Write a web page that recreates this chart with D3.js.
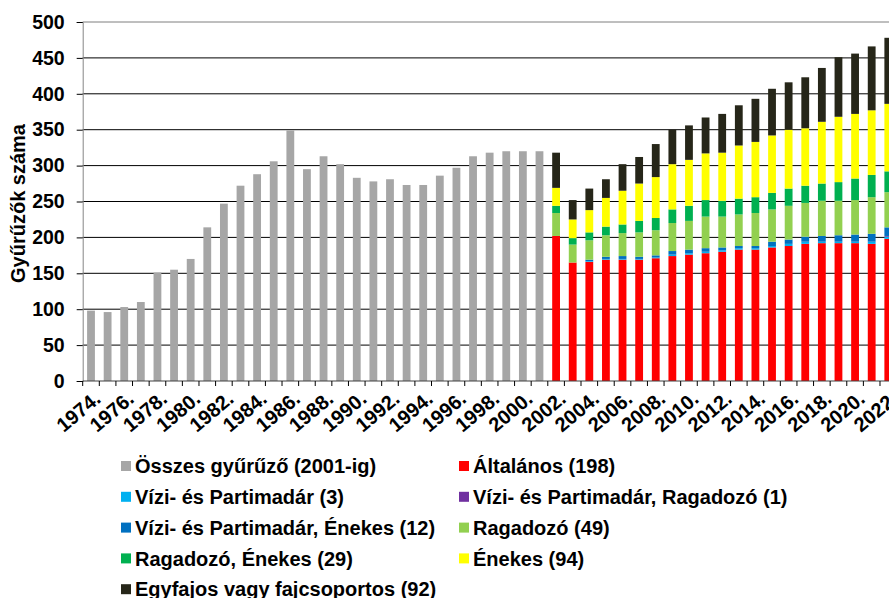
<!DOCTYPE html>
<html>
<head>
<meta charset="utf-8">
<script src="https://cdn.jsdelivr.net/npm/d3@7/dist/d3.min.js"></script>
<style>
  body { margin: 0; background: #ffffff; }
  svg { display: block; }
  text { font-family: "Liberation Sans", Arial, sans-serif; font-weight: bold; fill: #000000; }
</style>
</head>
<body>
<script>
// categories
const years = [
  1974, 1975, 1976, 1977, 1978, 1979, 1980, 1981, 1982, 1983,
  1984, 1985, 1986, 1987, 1988, 1989, 1990, 1991, 1992, 1993,
  1994, 1995, 1996, 1997, 1998, 1999, 2000, 2001, 2002, 2003,
  2004, 2005, 2006, 2007, 2008, 2009, 2010, 2011, 2012, 2013,
  2014, 2015, 2016, 2017, 2018, 2019, 2020, 2021, 2022,
];

// all ringers, up to 2001
const totalYears = [
  1974, 1975, 1976, 1977, 1978, 1979, 1980, 1981, 1982, 1983,
  1984, 1985, 1986, 1987, 1988, 1989, 1990, 1991, 1992, 1993,
  1994, 1995, 1996, 1997, 1998, 1999, 2000, 2001,
];
const totalValues = [
  98, 96, 103, 110, 151, 155, 170, 214, 247, 272,
  288, 306, 349, 295, 313, 302, 283, 278, 281, 273,
  273, 286, 297, 313, 318, 320, 320, 320,
];

// by licence type, from 2002
const stackYears = [
  2002, 2003, 2004, 2005, 2006, 2007, 2008, 2009, 2010, 2011,
  2012, 2013, 2014, 2015, 2016, 2017, 2018, 2019, 2020, 2021, 2022,
];
const altalanos = [202, 165, 166, 169, 169, 169, 171, 174, 176, 178, 180, 183, 183, 186, 188, 191, 192, 192, 192, 191, 198];
const viziParti = [0, 0, 1, 1, 1, 1, 1, 2, 2, 2, 2, 2, 2, 2, 3, 3, 2, 2, 2, 3, 3];
const viziRagadozo = [0, 0, 0, 0, 0, 0, 0, 0, 0, 0, 0, 0, 0, 0, 0, 0, 0, 0, 0, 0, 1];
const viziEnekes = [0, 0, 2, 3, 4, 3, 3, 5, 5, 5, 4, 3, 3, 6, 6, 7, 8, 9, 10, 11, 12];
const ragadozo = [32, 25, 27, 30, 32, 34, 35, 39, 40, 44, 43, 44, 46, 45, 47, 47, 49, 48, 48, 51, 49];
const ragadozoEnekes = [10, 9, 11, 12, 12, 16, 17, 19, 21, 23, 22, 22, 22, 23, 24, 24, 24, 26, 30, 31, 29];
const enekes = [25, 26, 31, 40, 47, 52, 57, 63, 64, 65, 67, 74, 77, 80, 82, 80, 86, 91, 90, 90, 94];
const egyfajos = [49, 27, 30, 26, 37, 37, 46, 48, 48, 50, 54, 56, 60, 65, 66, 71, 75, 83, 84, 89, 92];

const yTicks = [0, 50, 100, 150, 200, 250, 300, 350, 400, 450, 500];

const seriesKeys = ["altalanos", "viziParti", "viziRagadozo", "viziEnekes", "ragadozo", "ragadozoEnekes", "enekes", "egyfajos"];
const seriesColors = {
  altalanos: "#ff0000",
  viziParti: "#00b0f0",
  viziRagadozo: "#7030a0",
  viziEnekes: "#0070c0",
  ragadozo: "#92d050",
  ragadozoEnekes: "#00b050",
  enekes: "#ffff00",
  egyfajos: "#262619",
};
const grey = "#a6a6a6";

const legendItems = [
  { label: "Összes gyűrűző (2001-ig)", color: grey },
  { label: "Általános (198)", color: seriesColors.altalanos },
  { label: "Vízi- és Partimadár (3)", color: seriesColors.viziParti },
  { label: "Vízi- és Partimadár, Ragadozó (1)", color: seriesColors.viziRagadozo },
  { label: "Vízi- és Partimadár, Énekes (12)", color: seriesColors.viziEnekes },
  { label: "Ragadozó (49)", color: seriesColors.ragadozo },
  { label: "Ragadozó, Énekes (29)", color: seriesColors.ragadozoEnekes },
  { label: "Énekes (94)", color: seriesColors.enekes },
  { label: "Egyfajos vagy fajcsoportos (92)", color: seriesColors.egyfajos },
];

const width = 889;
const height = 598;

const plotLeft = 82.7;
const plotRight = 896.6;
const plotTop = 22;
const plotBottom = 381;

const svg = d3.select("body")
    .append("svg")
    .attr("xmlns", "http://www.w3.org/2000/svg")
    .attr("width", width)
    .attr("height", height)
    .attr("viewBox", [0, 0, width, height].join(" "));

const x = d3.scaleBand()
    .domain(years)
    .range([plotLeft, plotRight])
    .paddingInner(0.53)
    .paddingOuter(0.265);

const y = d3.scaleLinear()
    .domain([0, 500])
    .range([plotBottom, plotTop]);

// gridlines
svg.append("g")
    .selectAll("line")
    .data(yTicks.filter((d) => d > 0))
    .enter()
    .append("line")
    .attr("x1", plotLeft)
    .attr("x2", plotRight)
    .attr("y1", (d) => y(d))
    .attr("y2", (d) => y(d))
    .attr("stroke", (d) => (d === 500 ? "#7f7f7f" : "#000000"))
    .attr("stroke-width", 1);

// grey bars
svg.append("g")
    .selectAll("rect")
    .data(totalYears.map((year, i) => ({ year, value: totalValues[i] })))
    .enter()
    .append("rect")
    .attr("x", (d) => x(d.year))
    .attr("width", x.bandwidth())
    .attr("y", (d) => y(d.value))
    .attr("height", (d) => y(0) - y(d.value))
    .attr("fill", grey);

// stacked bars
const seriesData = { altalanos, viziParti, viziRagadozo, viziEnekes, ragadozo, ragadozoEnekes, enekes, egyfajos };

const rows = stackYears.map((year, i) => {
  const row = { year };
  for (const key of seriesKeys) {
    row[key] = seriesData[key][i];
  }
  return row;
});

const stack = d3.stack().keys(seriesKeys);

svg.append("g")
    .selectAll("g")
    .data(stack(rows))
    .enter()
    .append("g")
    .attr("fill", (d) => seriesColors[d.key])
    .selectAll("rect")
    .data((d) => d)
    .enter()
    .append("rect")
    .attr("x", (d) => x(d.data.year))
    .attr("width", x.bandwidth())
    .attr("y", (d) => y(d[1]))
    .attr("height", (d) => y(d[0]) - y(d[1]));

// y axis
const yAxis = svg.append("g")
    .attr("transform", `translate(${plotLeft}, 0)`)
    .call(d3.axisLeft(y).tickValues(yTicks).tickSize(6).tickPadding(12));

yAxis.select(".domain").attr("stroke", "#868686");
yAxis.selectAll(".tick line").attr("stroke", "#000000");
yAxis.selectAll(".tick text")
    .attr("font-size", 19.5)
    .attr("font-family", "\"Liberation Sans\", Arial, sans-serif")
    .attr("font-weight", "bold");

// x axis line and ticks
const step = x.step();
const boundary = (year) => x(year) - (step - x.bandwidth()) / 2;

svg.append("line")
    .attr("x1", plotLeft)
    .attr("x2", plotRight)
    .attr("y1", plotBottom)
    .attr("y2", plotBottom)
    .attr("stroke", "#404040");

svg.append("g")
    .selectAll("line")
    .data(years)
    .enter()
    .append("line")
    .attr("x1", (d) => boundary(d))
    .attr("x2", (d) => boundary(d))
    .attr("y1", plotBottom)
    .attr("y2", plotBottom + 5)
    .attr("stroke", "#000000");

// x labels, every second year
svg.append("g")
    .selectAll("text")
    .data(years.filter((d) => d % 2 === 0))
    .enter()
    .append("text")
    .attr("transform", (d) => `translate(${x(d) + x.bandwidth() / 2 + 2}, 390) rotate(-40)`)
    .attr("text-anchor", "end")
    .attr("dy", "0.71em")
    .attr("font-size", 20)
    .text((d) => `${d}.`);

// y title
svg.append("text")
    .attr("transform", `translate(25, ${(plotTop + plotBottom) / 2 + 2}) rotate(-90)`)
    .attr("text-anchor", "middle")
    .attr("font-size", 20)
    .text("Gyűrűzők száma");

// legend
const legend = svg.append("g")
    .selectAll("g")
    .data(legendItems)
    .enter()
    .append("g")
    .attr("transform", (d, i) => `translate(${i % 2 === 0 ? 121 : 459}, ${466 + Math.floor(i / 2) * 30.8})`);

legend.append("rect")
    .attr("x", 0)
    .attr("y", -5)
    .attr("width", 10)
    .attr("height", 10)
    .attr("fill", (d) => d.color);

legend.append("text")
    .attr("x", 14)
    .attr("dy", "0.36em")
    .attr("font-size", 20)
    .text((d) => d.label);
</script>
</body>
</html>
